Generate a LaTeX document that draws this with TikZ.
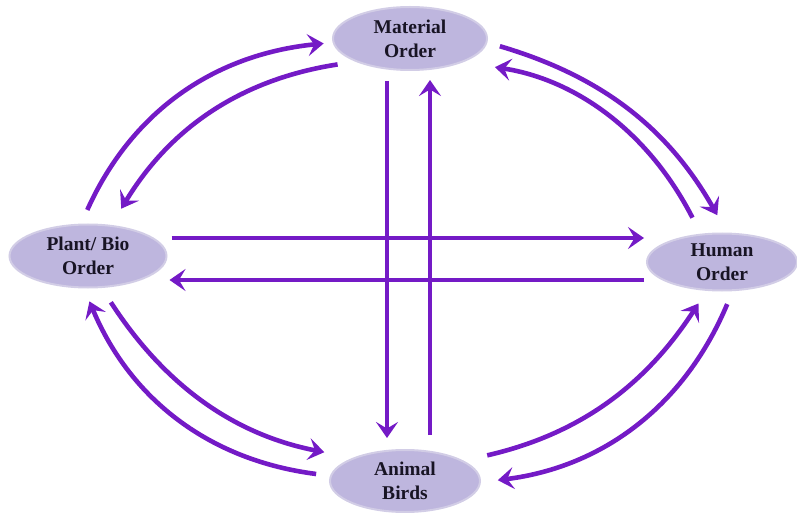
\documentclass[tikz,border=0pt]{standalone}
\usepackage{fontspec}
\setmainfont{Liberation Serif}
\usetikzlibrary{arrows.meta,shapes.geometric}

\definecolor{flowpurple}{RGB}{116,26,198}
\definecolor{ordfill}{RGB}{190,182,222}
\definecolor{ordedge}{RGB}{210,205,230}
\definecolor{ordtext}{RGB}{24,20,36}

\begin{document}
\begin{tikzpicture}[
  x=1pt, y=1pt,
  order/.style={
    ellipse, draw=ordedge, line width=2pt, fill=ordfill,
    inner sep=0pt, align=center, text=ordtext,
    font=\fontsize{19.5}{24}\selectfont\bfseries
  },
  flow/.style={
    -{Stealth[length=16pt,width=22pt,inset=6.5pt]},
    draw=flowpurple, line width=4.6pt
  }
]
\useasboundingbox (0,0) rectangle (797,512);

% ================= ORDERS =================
\node[order, minimum width=154pt, minimum height=63pt] (mat) at (410,473.5) {Material\\Order};
\node[order, minimum width=157pt, minimum height=63pt] (plant) at (88,256) {Plant/ Bio\\Order};
\node[order, minimum width=150pt, minimum height=57pt] (human) at (722,250) {Human\\Order};
\node[order, minimum width=150pt, minimum height=62pt] (animal) at (405,31) {Animal\\Birds};

% ================= CURVED ARROWS =================
% kiri atas
\draw[flow, shorten <=15pt, shorten >=9pt] (plant.102) to[bend left=30] (mat.183);
\draw[flow, shorten <=18pt, shorten >=19pt] (mat.203) to[bend right=25] (plant.53);

% kanan atas
\draw[flow, shorten <=13pt, shorten >=20pt] (mat.-3) to[bend left=22] (human.80);
\draw[flow, shorten <=18pt, shorten >=32pt] (human.127) to[bend right=27] (mat.-24);

% kiri bawah
\draw[flow, shorten <=14pt, shorten >=14pt] (animal.176) to[bend left=30] (plant.263);
\draw[flow, shorten <=17pt, shorten >=29pt] (plant.-67) to[bend right=23] (animal.156);

% kanan bawah
\draw[flow, shorten <=24pt, shorten >=15pt] (animal.19) to[bend right=22] (human.242);
\draw[flow, shorten <=14pt, shorten >=17pt] (human.-70) to[bend left=30] (animal.-1);

% ================= STRAIGHT ARROWS =================
\coordinate (rowtop) at ([yshift=18pt]plant.east);
\coordinate (rowbot) at ([yshift=-18pt]human.west);
\coordinate (coldown) at ([xshift=-23pt]mat.south);
\coordinate (colup) at ([xshift=25pt]animal.north);

\draw[flow, shorten <=4pt, shorten >=2pt] (rowtop) -- (rowtop -| human.west);
\draw[flow, shorten <=2pt, shorten >=2pt] (rowbot) -- (rowbot -| plant.east);
\draw[flow, shorten <=10pt, shorten >=11pt] (coldown) -- (coldown |- animal.north);
\draw[flow, shorten <=14pt, shorten >=9pt] (colup) -- (colup |- mat.south);

\end{tikzpicture}
\end{document}
